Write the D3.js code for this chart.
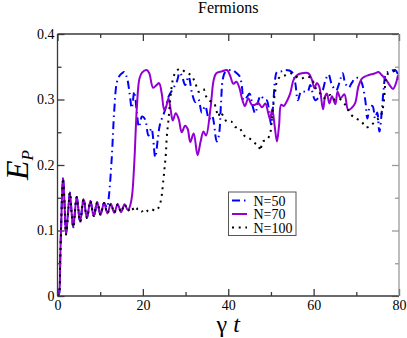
<!DOCTYPE html>
<html>
<head>
<meta charset="utf-8">
<script src="https://cdn.jsdelivr.net/npm/d3@7"></script>
<style>
    body { margin: 0; background: #fff; }
    svg text { font-family: "Liberation Serif", "Times New Roman", Tinos, "DejaVu Serif", serif; }
    .axis path { display: none; }
    .axis line { stroke: #3a3a3a; stroke-width: 1.3; }
    .axis text { font-size: 14px; fill: #000; }
    .series { fill: none; }
</style>
</head>
<body>
<script>

var fullWidth = 407;
var fullHeight = 338;

var margin = {top: 34, right: 8, bottom: 42, left: 57.5};

var width = fullWidth - margin.left - margin.right;
var height = fullHeight - margin.top - margin.bottom;

var serif = '"Liberation Serif", "Times New Roman", Tinos, "DejaVu Serif", serif';

// ringing at the start, shared by all three runs [gamma t, E_P]
var ringdown = [[0, 0], [0.3, 0.002], [0.65, 0.06], [1.0, 0.14], [1.3, 0.18],
    [1.65, 0.14], [2.0, 0.094], [2.45, 0.125], [2.9, 0.158], [3.3, 0.128],
    [3.7, 0.105], [4.5, 0.151], [5.3, 0.113], [6.1, 0.148], [6.9, 0.119],
    [7.7, 0.145], [8.5, 0.122], [9.3, 0.143], [10.1, 0.124], [10.9, 0.142],
    [11.7, 0.126], [12.5, 0.141], [13.3, 0.127], [14.1, 0.140], [14.9, 0.128],
    [15.7, 0.140]];

var n50Tail = [[11.6, 0.135], [12.0, 0.15], [12.7, 0.21], [13.3, 0.284], [13.9, 0.326],
    [14.5, 0.336], [15.1, 0.340], [15.6, 0.342], [16.0, 0.338], [16.4, 0.33],
    [16.9, 0.309], [17.4, 0.287], [18.0, 0.312], [18.6, 0.279], [19.1, 0.258],
    [19.8, 0.274], [20.5, 0.27], [21.3, 0.245], [22.0, 0.256], [22.9, 0.212],
    [23.5, 0.24], [24.0, 0.262], [25.2, 0.284], [26.0, 0.304], [27.2, 0.318],
    [28.0, 0.328], [28.6, 0.341], [29.2, 0.335], [29.9, 0.322], [30.7, 0.335],
    [31.5, 0.31], [32.3, 0.296], [33.0, 0.30], [33.8, 0.28], [34.6, 0.29],
    [35.5, 0.27], [36.2, 0.275], [37.3, 0.236], [37.8, 0.245], [38.3, 0.294],
    [38.7, 0.33], [39.3, 0.342], [40.8, 0.345], [42.0, 0.340], [42.7, 0.335],
    [43.2, 0.32], [43.6, 0.299], [44.4, 0.304], [45.0, 0.309], [45.7, 0.29],
    [46.3, 0.279], [47.1, 0.299], [47.6, 0.306], [48.4, 0.30], [49.0, 0.299],
    [49.6, 0.281], [50.0, 0.262], [50.5, 0.29], [51.0, 0.332], [51.4, 0.342],
    [52.5, 0.343], [53.3, 0.345], [54.9, 0.342], [55.7, 0.325], [56.3, 0.299],
    [57.1, 0.312], [58.6, 0.312], [59.2, 0.322], [60.4, 0.299], [62.0, 0.312],
    [62.8, 0.33], [63.5, 0.338], [64.3, 0.322], [65.3, 0.314], [66.0, 0.325],
    [66.8, 0.340], [67.4, 0.325], [68.2, 0.318], [68.9, 0.325], [69.7, 0.332],
    [70.6, 0.333], [71.3, 0.325], [72.1, 0.299], [72.6, 0.271], [73.2, 0.289],
    [73.8, 0.29], [74.4, 0.271], [74.9, 0.28], [75.4, 0.251], [76.0, 0.284],
    [76.4, 0.315], [77.0, 0.340], [77.9, 0.343], [79.1, 0.345], [80, 0.335]];

var n70Tail = [[16.5, 0.131], [17.1, 0.14], [17.5, 0.155], [18.0, 0.205], [18.6, 0.289],
    [19.2, 0.332], [19.8, 0.341], [20.9, 0.345], [21.5, 0.34], [22.4, 0.318],
    [23.2, 0.322], [23.8, 0.325], [24.4, 0.31], [25.0, 0.284], [25.5, 0.29],
    [26.0, 0.302], [26.5, 0.285], [27.0, 0.268], [27.7, 0.279], [28.4, 0.27],
    [29.1, 0.25], [29.9, 0.26], [30.5, 0.255], [31.1, 0.235], [31.9, 0.248],
    [32.8, 0.215], [33.5, 0.235], [34.2, 0.251], [34.8, 0.245], [35.8, 0.284],
    [36.6, 0.33], [37.2, 0.340], [38.5, 0.343], [39.7, 0.345], [40.4, 0.337],
    [41.2, 0.324], [41.9, 0.327], [42.6, 0.318], [43.2, 0.302], [43.9, 0.29],
    [44.7, 0.302], [45.5, 0.292], [46.3, 0.292], [47.0, 0.295], [47.9, 0.288],
    [48.7, 0.294], [49.3, 0.281], [49.8, 0.27], [50.3, 0.285], [50.9, 0.258],
    [51.4, 0.236], [51.9, 0.26], [52.4, 0.292], [53.0, 0.29], [53.7, 0.297],
    [54.5, 0.309], [55.3, 0.33], [56.1, 0.337], [57.2, 0.340], [58.8, 0.340],
    [59.6, 0.33], [60.2, 0.317], [60.7, 0.325], [61.3, 0.32], [62.2, 0.285],
    [62.7, 0.305], [63.1, 0.309], [63.7, 0.294], [64.3, 0.305], [65.1, 0.293],
    [65.6, 0.312], [66.3, 0.302], [67.2, 0.308], [68.1, 0.284], [68.9, 0.287],
    [69.7, 0.294], [70.5, 0.320], [71.3, 0.332], [72.0, 0.335], [72.8, 0.337],
    [74.4, 0.340], [75.2, 0.342], [76.0, 0.337], [77.0, 0.33], [77.8, 0.322],
    [78.6, 0.316], [79.3, 0.325], [79.8, 0.337], [80, 0.33]];

var n100Tail = [[16.5, 0.130], [17.3, 0.136], [18.1, 0.129], [18.9, 0.134], [19.7, 0.129],
    [20.5, 0.133], [21.3, 0.129], [22.1, 0.132], [22.9, 0.130], [23.6, 0.134],
    [24.2, 0.145], [24.8, 0.177], [25.1, 0.197], [25.4, 0.218], [25.6, 0.243],
    [26.0, 0.269], [26.4, 0.299], [26.8, 0.322], [27.3, 0.337], [28.1, 0.345],
    [28.8, 0.347], [29.9, 0.342], [30.6, 0.34], [31.5, 0.335], [32.3, 0.325],
    [33.0, 0.312], [33.6, 0.313], [34.2, 0.316], [34.8, 0.305], [35.4, 0.299],
    [36.0, 0.297], [36.7, 0.294], [37.2, 0.284], [37.7, 0.274], [38.1, 0.281],
    [38.9, 0.274], [39.7, 0.266], [40.8, 0.266], [41.6, 0.258], [42.4, 0.258],
    [43.2, 0.251], [44.0, 0.243], [44.8, 0.241], [45.5, 0.238], [46.3, 0.233],
    [47.1, 0.23], [47.5, 0.222], [48.1, 0.236], [49.0, 0.238], [49.8, 0.248],
    [50.2, 0.269], [50.6, 0.294], [51.0, 0.312], [51.4, 0.327], [52.2, 0.335],
    [53.4, 0.337], [54.5, 0.340], [55.5, 0.338], [56.3, 0.333], [57.2, 0.332],
    [58.4, 0.335], [59.6, 0.332], [60.2, 0.32], [60.8, 0.315], [61.6, 0.309],
    [62.3, 0.303], [63.1, 0.302], [63.9, 0.307], [64.8, 0.3], [65.8, 0.302],
    [66.6, 0.298], [67.4, 0.292], [68.1, 0.284], [68.9, 0.276], [69.7, 0.272],
    [70.5, 0.269], [71.3, 0.266], [72.1, 0.258], [72.9, 0.258], [73.7, 0.262],
    [74.6, 0.268], [75.4, 0.272], [76.0, 0.28], [76.5, 0.30], [76.9, 0.33],
    [77.5, 0.34], [78.3, 0.342], [79.5, 0.345], [80, 0.345]];

var seriesNames = ["N=50", "N=70", "N=100"];
var xMajor = [0, 20, 40, 60, 80];
var xMinor = [10, 30, 50, 70];
var yMajor = [0, 0.1, 0.2, 0.3, 0.4];
var yMinor = [0.05, 0.15, 0.25, 0.35];

window.onload = function() {

    // the N=50 run leaves the ringing earlier than the other two
    var n50 = ringdown.filter(function(d) { return d[0] <= 10.9; }).concat(n50Tail);
    var n70 = ringdown.concat(n70Tail);
    var n100 = ringdown.concat(n100Tail);

    var runs = [
        {name: seriesNames[0], values: n50, color: "#0000ff", dash: "8,4,1.5,4"},
        {name: seriesNames[1], values: n70, color: "#9400d3", dash: null},
        {name: seriesNames[2], values: n100, color: "#000000", dash: "2,4.7"}
    ];

    var svg = d3.select("body")
                .append("svg")
                .attr("width", fullWidth)
                .attr("height", fullHeight)
                .style("font-family", serif);

    var xScale = d3.scaleLinear()
                   .domain([0, 80])
                   .range([margin.left, margin.left + width]);

    var yScale = d3.scaleLinear()
                   .domain([0, 0.4])
                   .range([margin.top + height, margin.top]);

    // title
    svg.append("text")
       .attr("x", margin.left + width / 2)
       .attr("y", 13)
       .style("text-anchor", "middle")
       .style("font-size", "16px")
       .text("Fermions");

    // ticks point inward on all four sides
    var fmt = function(d) { return d === 0 ? "0" : d3.format(".1f")(d); };

    function addAxis(axis, tx, ty, cls) {
        var g = svg.append("g")
                   .attr("class", "axis " + (cls || ""))
                   .attr("transform", "translate(" + tx + "," + ty + ")")
                   .call(axis);
        g.attr("font-family", null);
        return g;
    }

    var bottom = margin.top + height;
    var right = margin.left + width;

    addAxis(d3.axisBottom(xScale).tickValues(xMajor).tickSize(-7).tickPadding(4.5), 0, bottom);
    addAxis(d3.axisBottom(xScale).tickValues(xMinor).tickSize(-4).tickFormat(""), 0, bottom);
    addAxis(d3.axisLeft(yScale).tickValues(yMajor).tickSize(-7).tickPadding(3).tickFormat(fmt), margin.left, 0);
    addAxis(d3.axisLeft(yScale).tickValues(yMinor).tickSize(-4).tickFormat(""), margin.left, 0);
    addAxis(d3.axisTop(xScale).tickValues(xMajor).tickSize(-7).tickFormat(""), 0, margin.top);
    addAxis(d3.axisTop(xScale).tickValues(xMinor).tickSize(-4).tickFormat(""), 0, margin.top);
    addAxis(d3.axisRight(yScale).tickValues(yMajor).tickSize(-7).tickFormat(""), right, 0, "right");
    addAxis(d3.axisRight(yScale).tickValues(yMinor).tickSize(-4).tickFormat(""), right, 0, "right");
    svg.selectAll(".right line").style("stroke", "#9a9a9a");

    // data curves
    svg.append("clipPath")
       .attr("id", "plotArea")
       .append("rect")
       .attr("x", margin.left)
       .attr("y", margin.top)
       .attr("width", width)
       .attr("height", height);

    var line = d3.line()
                 .x(function(d) { return xScale(d[0]); })
                 .y(function(d) { return yScale(d[1]); })
                 .curve(d3.curveCatmullRom.alpha(0.5));

    svg.append("g")
       .attr("clip-path", "url(#plotArea)")
       .selectAll("path")
       .data(runs)
       .enter()
       .append("path")
       .attr("class", "series")
       .attr("d", function(d) { return line(d.values); })
       .style("stroke", function(d) { return d.color; })
       .style("stroke-width", 2)
       .style("stroke-dasharray", function(d) { return d.dash; });

    // frame
    var frame = [
        [margin.left, right, margin.top, margin.top, "#3a3a3a"],
        [margin.left, right, bottom, bottom, "#3a3a3a"],
        [margin.left, margin.left, margin.top, bottom, "#3a3a3a"],
        [right, right, margin.top, bottom, "#9a9a9a"]
    ];
    svg.selectAll(".frame")
       .data(frame)
       .enter()
       .append("line")
       .attr("class", "frame")
       .attr("x1", function(d) { return d[0]; })
       .attr("x2", function(d) { return d[1]; })
       .attr("y1", function(d) { return d[2]; })
       .attr("y2", function(d) { return d[3]; })
       .style("stroke", function(d) { return d[4]; })
       .style("stroke-width", 1.3);

    // legend
    var legend = svg.append("g")
                    .attr("transform", "translate(228.5,192)");

    legend.append("rect")
          .attr("width", 67.5)
          .attr("height", 43.5)
          .style("fill", "#fff")
          .style("stroke", "#555")
          .style("stroke-width", 1);

    var entry = legend.selectAll(".entry")
                      .data(runs)
                      .enter()
                      .append("g")
                      .attr("class", "entry")
                      .attr("transform", function(d, i) {
                          return "translate(0," + (8.5 + i * 13.5) + ")";
                      });

    entry.append("line")
         .attr("x1", 3.5)
         .attr("x2", 18.5)
         .style("stroke", function(d) { return d.color; })
         .style("stroke-width", 2)
         .style("stroke-dasharray", function(d) { return d.dash; });

    entry.append("text")
         .attr("x", 25)
         .attr("y", 5)
         .style("font-size", "14px")
         .text(function(d) { return d.name; });

    // axis names
    var yName = svg.append("text")
                   .attr("transform", "translate(28," + (margin.top + height / 2) + ") rotate(-90)")
                   .style("text-anchor", "middle")
                   .style("font-style", "italic")
                   .style("font-size", "32px");
    yName.append("tspan").text("E");
    yName.append("tspan")
         .attr("dy", 5)
         .style("font-size", "17px")
         .text("P");

    var xName = svg.append("text")
                   .attr("x", margin.left + width / 2)
                   .attr("y", 332)
                   .style("text-anchor", "middle")
                   .style("font-size", "24px");
    xName.append("tspan").text("\u03b3");
    xName.append("tspan")
         .style("font-style", "italic")
         .text(" t");
};
</script>
</body>
</html>
